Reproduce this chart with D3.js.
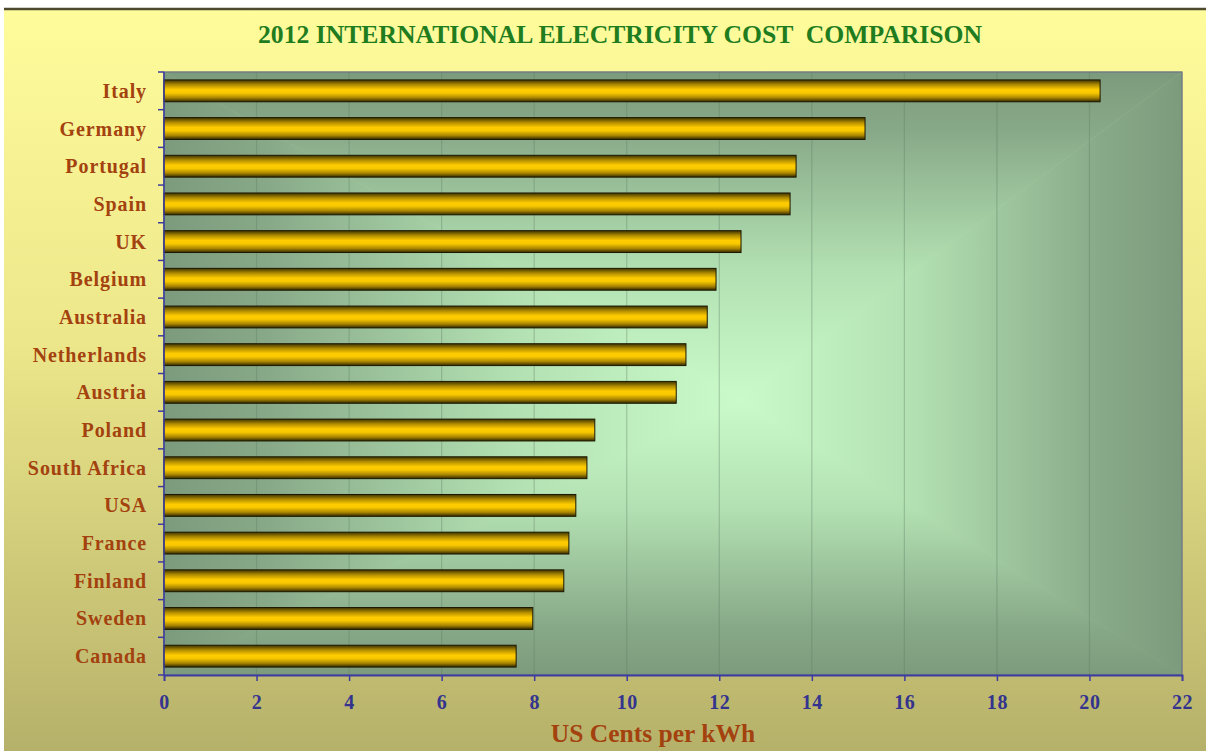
<!DOCTYPE html>
<html lang="en">
<head>
<meta charset="UTF-8">
<title>2012 International Electricity Cost Comparison</title>
<script src="https://cdnjs.cloudflare.com/ajax/libs/d3/7.8.5/d3.min.js"></script>
<style>
    body { margin: 0; background: #fff; }
    svg { display: block; }
    text { font-family: "Liberation Serif", "Times New Roman", serif; font-weight: bold; }
</style>
</head>
<body>
<svg width="1206" height="751"></svg>
<script>
// data (US cents per kWh, 2012)
const countries = ["Italy", "Germany", "Portugal", "Spain", "UK", "Belgium", "Australia",
    "Netherlands", "Austria", "Poland", "South Africa", "USA", "France", "Finland", "Sweden", "Canada"];
const costs = [20.23, 15.15, 13.66, 13.53, 12.47, 11.93, 11.74, 11.28, 11.07, 9.31, 9.14, 8.90, 8.75, 8.64, 7.97, 7.61];
const xTicks = [0, 2, 4, 6, 8, 10, 12, 14, 16, 18, 20, 22];

const data = countries.map((c, i) => ({ country: c, value: costs[i] }));

const svg = d3.select("svg");
const W = 1206, H = 751;
const margin = { top: 72, right: 24, bottom: 76, left: 164 };
const plotW = W - margin.left - margin.right;
const plotH = H - margin.top - margin.bottom;

const defs = svg.append("defs");

// page background: pale yellow fading to olive
const bg = defs.append("linearGradient").attr("id", "pageBg")
    .attr("x1", 0).attr("y1", 0).attr("x2", 0).attr("y2", 1);
bg.append("stop").attr("offset", "0%").attr("stop-color", "#fffc9c");
bg.append("stop").attr("offset", "45%").attr("stop-color", "#ece78a");
bg.append("stop").attr("offset", "100%").attr("stop-color", "#b6b16a");

svg.append("rect").attr("x", 4).attr("y", 9).attr("width", W - 4).attr("height", H - 9)
    .attr("fill", "url(#pageBg)");
svg.append("line").attr("x1", 4).attr("x2", W).attr("y1", 9).attr("y2", 9)
    .attr("stroke", "#4d4a30").attr("stroke-width", 2.5);

// bar fill: dark edges, gold middle
const barGrad = defs.append("linearGradient").attr("id", "barGrad")
    .attr("x1", 0).attr("y1", 0).attr("x2", 0).attr("y2", 1);
[["0%", "#3d3200"], ["22%", "#b08c00"], ["45%", "#ffcc00"], ["60%", "#f8c800"], ["82%", "#a88400"], ["100%", "#302700"]]
    .forEach(s => barGrad.append("stop").attr("offset", s[0]).attr("stop-color", s[1]));

const x = d3.scaleLinear().domain([0, 22]).range([0, plotW]);
const y = d3.scaleBand().domain(countries).range([0, plotH]).paddingInner(0.42).paddingOuter(0.21);

const g = svg.append("g").attr("transform", `translate(${margin.left},${margin.top})`);

// plot area: rectangular "from centre" gradient built from four triangles
const cx = 576, cy = 328;
const edgeCol = "#7c9b7d", midCol = "#cafaca";
const tris = [
    { id: "gT", pts: [[0, 0], [plotW, 0], [cx, cy]], from: [0, 0], to: [0, cy] },
    { id: "gB", pts: [[0, plotH], [plotW, plotH], [cx, cy]], from: [0, plotH], to: [0, cy] },
    { id: "gL", pts: [[0, 0], [0, plotH], [cx, cy]], from: [0, 0], to: [cx, 0] },
    { id: "gR", pts: [[plotW, 0], [plotW, plotH], [cx, cy]], from: [plotW, 0], to: [cx, 0] }
];
tris.forEach(t => {
    const lg = defs.append("linearGradient").attr("id", t.id).attr("gradientUnits", "userSpaceOnUse")
        .attr("x1", t.from[0]).attr("y1", t.from[1]).attr("x2", t.to[0]).attr("y2", t.to[1]);
    lg.append("stop").attr("offset", "0%").attr("stop-color", edgeCol);
    lg.append("stop").attr("offset", "18%").attr("stop-color", "#88a988");
    lg.append("stop").attr("offset", "60%").attr("stop-color", "#b2e0b2");
    lg.append("stop").attr("offset", "100%").attr("stop-color", midCol);
    g.append("polygon").attr("points", t.pts.map(p => p.join(",")).join(" "))
        .attr("fill", `url(#${t.id})`).attr("stroke", `url(#${t.id})`).attr("stroke-width", 0.6);
});

// gridlines
g.selectAll(".grid").data(xTicks.filter(d => d > 0 && d < 22)).enter().append("line")
    .attr("x1", d => x(d)).attr("x2", d => x(d)).attr("y1", 0).attr("y2", plotH)
    .attr("stroke", "#5f7a60").attr("stroke-opacity", 0.35).attr("stroke-width", 1.2);

// plot frame
g.append("rect").attr("width", plotW).attr("height", plotH).attr("fill", "none")
    .attr("stroke", "#6e7488").attr("stroke-width", 1.2);

// bars
g.selectAll(".bar").data(data).enter().append("rect")
    .attr("x", 0).attr("y", d => y(d.country))
    .attr("width", d => x(d.value)).attr("height", y.bandwidth())
    .attr("fill", "url(#barGrad)").attr("stroke", "#1c1800").attr("stroke-width", 1);

// y axis
g.append("line").attr("x1", 0).attr("x2", 0).attr("y1", 0).attr("y2", plotH)
    .attr("stroke", "#3c3ca0").attr("stroke-width", 1.5);
g.selectAll(".ytick").data(d3.range(countries.length + 1)).enter().append("line")
    .attr("x1", -6).attr("x2", 0)
    .attr("y1", i => i * plotH / countries.length).attr("y2", i => i * plotH / countries.length)
    .attr("stroke", "#3c3ca0").attr("stroke-width", 1.5);
g.selectAll(".ylab").data(countries).enter().append("text")
    .attr("x", -17).attr("y", d => y(d) + y.bandwidth() / 2)
    .attr("dy", "0.35em").attr("text-anchor", "end")
    .attr("fill", "#a3420f").attr("font-size", 20).attr("letter-spacing", 0.9)
    .text(d => d);

// x axis
const xAxis = g.append("g").attr("transform", `translate(0,${plotH})`)
    .call(d3.axisBottom(x).tickValues(xTicks).tickSize(6).tickPadding(14));
xAxis.select(".domain").attr("stroke", "#3c3ca0").attr("stroke-width", 1.8);
xAxis.selectAll(".tick line").attr("stroke", "#3c3ca0").attr("stroke-width", 1.5);
xAxis.attr("font-family", "Liberation Serif, serif");
xAxis.selectAll(".tick text").attr("fill", "#34348e")
    .style("font-size", "20px").attr("letter-spacing", 0.6).attr("font-weight", "bold");

// titles
svg.append("text").attr("x", 620).attr("y", 43).attr("text-anchor", "middle")
    .attr("fill", "#1f7d1f").attr("font-size", 26)
    .attr("textLength", 724).attr("lengthAdjust", "spacingAndGlyphs")
    .attr("xml:space", "preserve")
    .text("2012 INTERNATIONAL ELECTRICITY COST  COMPARISON");
svg.append("text").attr("x", 653).attr("y", 742).attr("text-anchor", "middle")
    .attr("fill", "#a3420f").attr("font-size", 25.5)
    .text("US Cents per kWh");
</script>
</body>
</html>
